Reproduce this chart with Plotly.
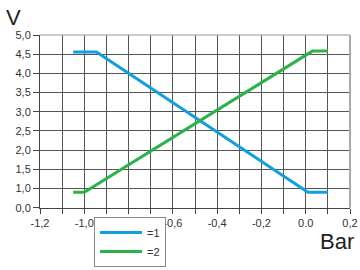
import plotly.graph_objects as go

# Data (x in Bar, y in V; y axis below 1,0 is compressed so plot position 0.5 is labelled 0,0)
s1_x = [-1.05, -0.945, 0.01, 0.10]
s1_y = [4.56, 4.56, 0.90, 0.90]
s2_x = [-1.05, -1.00, 0.03, 0.10]
s2_y = [0.90, 0.90, 4.58, 4.58]
series_names = ["=1", "=2"]

x_tickvals = [-1.2, -1.1, -1.0, -0.9, -0.8, -0.7, -0.6, -0.5, -0.4, -0.3, -0.2, -0.1, 0.0, 0.1, 0.2]
x_ticktext = ["-1,2", "", "-1,0", "", "-0,8", "", "-0,6", "", "-0,4", "", "-0,2", "", "0.0", "", "0,2"]
y_tickvals = [0.5, 1.0, 1.5, 2.0, 2.5, 3.0, 3.5, 4.0, 4.5, 5.0]
y_ticktext = ["0,0", "1,0", "1,5", "2,0", "2,5", "3,0", "3,5", "4,0", "4,5", "5,0"]

BLUE = "#109fe0"
GREEN = "#2bb34b"

H = 270
T = 35
PH = H - T  # paper height with zero bottom margin


def py(pix):
    return (H - pix) / PH


def px(pix):
    return (pix - 40) / 310


fig = go.Figure()
fig.add_trace(go.Scatter(x=s1_x, y=s1_y, mode="lines", name=series_names[0],
                         line=dict(color=BLUE, width=3)))
fig.add_trace(go.Scatter(x=s2_x, y=s2_y, mode="lines", name=series_names[1],
                         line=dict(color=GREEN, width=3)))

fig.update_layout(
    width=360, height=H,
    margin=dict(l=40, r=10, t=T, b=0, autoexpand=False),
    paper_bgcolor="white", plot_bgcolor="white",
    font=dict(family="Liberation Sans, Arial, sans-serif", size=11, color="#333"),
    showlegend=True,
    legend=dict(x=px(94), y=py(267), xanchor="left", yanchor="bottom",
                bordercolor="#888", borderwidth=1, bgcolor="white",
                itemwidth=42,
                font=dict(size=11, color="#333"), tracegroupgap=0),
    xaxis=dict(range=[-1.2, 0.2], tickmode="array", tickvals=x_tickvals, ticktext=x_ticktext,
               automargin=False,
               showgrid=True, gridcolor="#555", gridwidth=1, zeroline=False,
               showline=True, linecolor="#444", linewidth=1,
               ticks="outside", ticklen=5, tickcolor="#444", tickfont=dict(size=11, color="#333")),
    yaxis=dict(range=[0.5, 5.0], domain=[py(207.7), 1],
               automargin=False,
               tickmode="array", tickvals=y_tickvals, ticktext=y_ticktext,
               showgrid=True, gridcolor="#555", gridwidth=1, zeroline=False,
               showline=True, linecolor="#444", linewidth=1,
               ticks="outside", ticklen=6, tickcolor="#444", tickfont=dict(size=11, color="#333")),
    shapes=[
        dict(type="line", xref="paper", yref="paper", x0=1, x1=1, y0=py(207.7), y1=1,
             line=dict(color="#aaa", width=2), layer="above"),
        dict(type="line", xref="paper", yref="paper", x0=0, x1=1, y0=1, y1=1,
             line=dict(color="#999", width=1), layer="above"),
    ],
    annotations=[
        dict(text="V", xref="paper", yref="paper", x=px(13.5), y=py(17.5),
             xanchor="center", yanchor="middle", showarrow=False,
             font=dict(size=22, color="#222")),
        dict(text="Bar", xref="paper", yref="paper", x=px(337), y=py(241),
             xanchor="center", yanchor="middle", showarrow=False,
             font=dict(size=22, color="#222")),
    ],
)

fig.write_html("out.html")
